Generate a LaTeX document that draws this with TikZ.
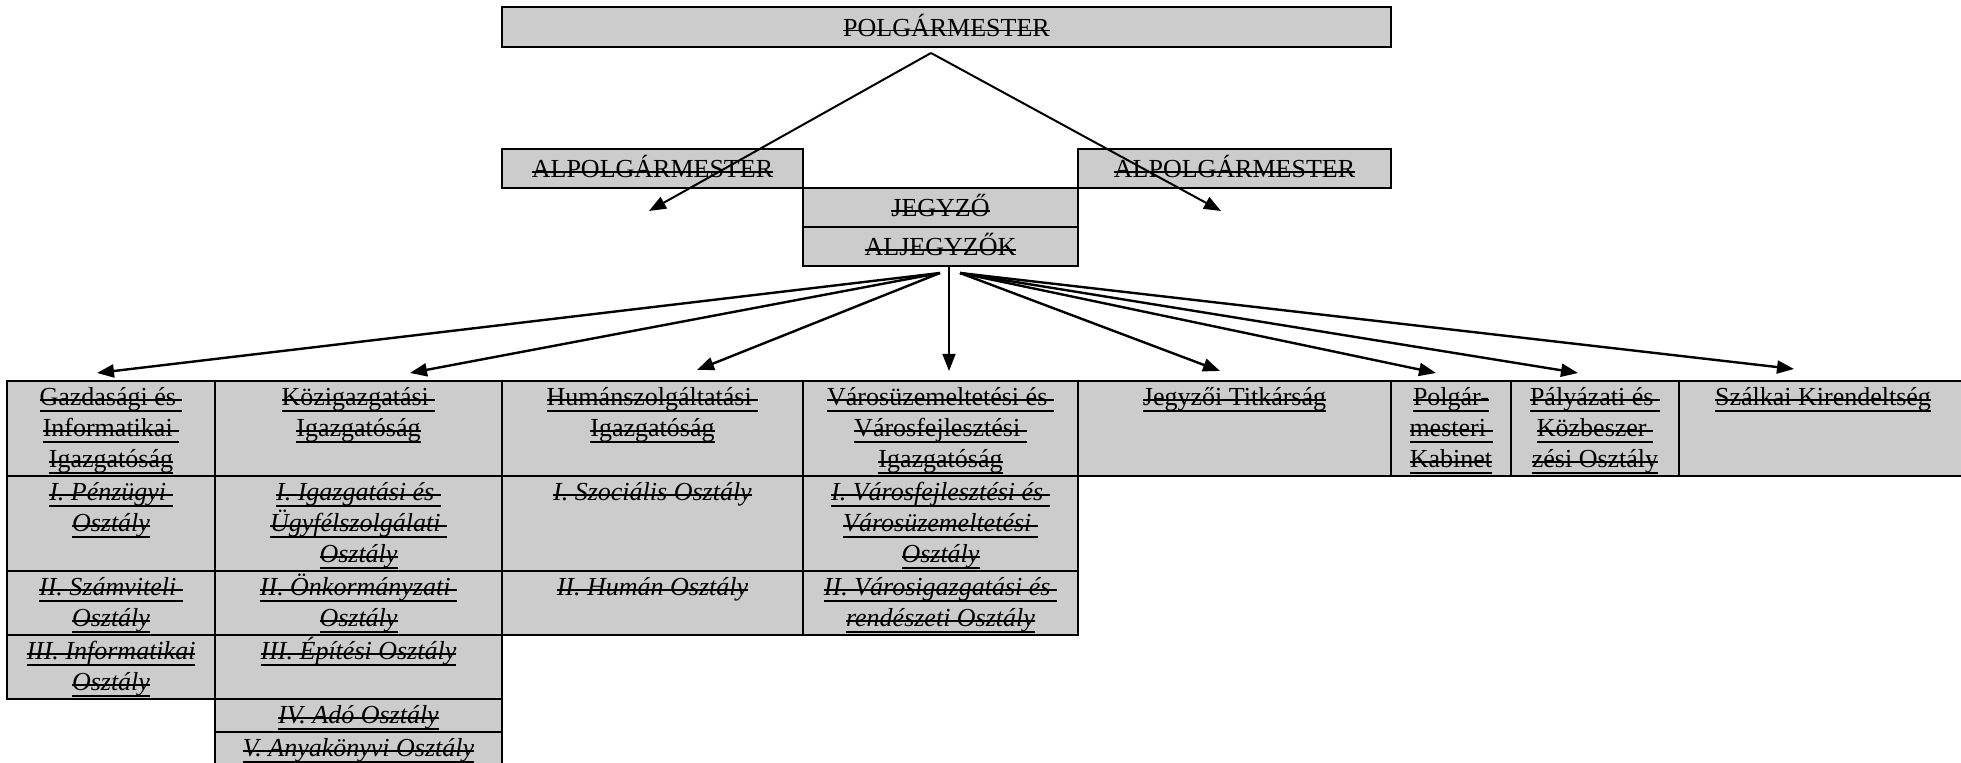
\documentclass[tikz,border=0pt]{standalone}
\usepackage{fontspec}
\setmainfont{Liberation Serif}
\usetikzlibrary{positioning, arrows.meta}

\definecolor{boxgray}{HTML}{CCCCCC}
\newdimen\unitpx \unitpx=0.5pt
% struck text, and struck + underlined text
\newcommand\strk[1]{\leavevmode\setbox0\hbox{#1}\rlap{\rule[0.4ex]{\wd0}{0.7pt}}\box0}
\newcommand\strkul[1]{\leavevmode\setbox0\hbox{#1}\rlap{\rule[0.4ex]{\wd0}{0.7pt}}\rlap{\rule[-0.5ex]{\wd0}{0.7pt}}\box0}
% box of given width and height (pixels), text on top or centred
\newcommand\cellbox[4][t]{\parbox[c][#3\unitpx][#1]{#2\unitpx}{\centering\rule[-3.2pt]{0pt}{15.5pt}#4}}

\begin{document}
\begin{tikzpicture}[x=0.5pt, y=-0.5pt,
    cell/.style={draw, line width=1.2pt, fill=boxgray, inner sep=0pt, outer sep=0pt,
                 font=\fontsize{13}{15.5}\selectfont},
    arr/.style={-{Triangle[length=8.5pt,width=6.5pt]}, line width=1.2pt}]
    \clip (0,0) rectangle (1961,763);

    % Place the leaders on top
    \node (POLG) [cell, anchor=north west] at (502,7) {\cellbox[c]{889}{40}{\strk{POLGÁRMESTER}}};
    \node (ALPL) [cell, anchor=north west] at (502,149) {\cellbox[c]{301}{39}{\strk{ALPOLGÁRMESTER}}};
    \node (JEGY) [cell, anchor=north west] at (803,188) {\cellbox[c]{275}{39}{\strk{JEGYZŐ}}};
    \node (ALJ) [cell, below=0pt of JEGY] {\cellbox[c]{275}{39}{\strk{ALJEGYZŐK}}};
    \node (ALPR) [cell, anchor=north west] at (1078,149) {\cellbox[c]{313}{39}{\strk{ALPOLGÁRMESTER}}};

    % Place the directorates in one row
    \node (GAZ) [cell, anchor=north west] at (7,381) {\cellbox{208}{95}{\strkul{Gazdasági és\ }\\\strkul{Informatikai\ }\\\strkul{Igazgatóság}}};
    \node (KOZ) [cell, right=0pt of GAZ] {\cellbox{287}{95}{\strkul{Közigazgatási\ }\\\strkul{Igazgatóság}}};
    \node (HUM) [cell, right=0pt of KOZ] {\cellbox{301}{95}{\strkul{Humánszolgáltatási\ }\\\strkul{Igazgatóság}}};
    \node (VAR) [cell, right=0pt of HUM] {\cellbox{275}{95}{\strkul{Városüzemeltetési és\ }\\\strkul{Városfejlesztési\ }\\\strkul{Igazgatóság}}};
    \node (JT) [cell, right=0pt of VAR] {\cellbox{313}{95}{\strkul{Jegyzői Titkárság}}};
    \node (KAB) [cell, right=0pt of JT] {\cellbox{120}{95}{\strkul{Polgár-}\\\strkul{mesteri\ }\\\strkul{Kabinet}}};
    \node (PAL) [cell, right=0pt of KAB] {\cellbox{168}{95}{\strkul{Pályázati és\ }\\\strkul{Közbeszer\ }\\\strkul{zési Osztály}}};
    \node (SZK) [cell, right=0pt of PAL] {\cellbox{288}{95}{\strkul{Szálkai Kirendeltség}}};

    % Place the departments below
    \node (GAZ1) [cell, below=0pt of GAZ] {\cellbox{208}{95}{\itshape\strkul{I. Pénzügyi\ }\\\strkul{Osztály}}};
    \node (GAZ2) [cell, below=0pt of GAZ1] {\cellbox{208}{64}{\itshape\strkul{II. Számviteli\ }\\\strkul{Osztály}}};
    \node (GAZ3) [cell, below=0pt of GAZ2] {\cellbox{208}{64}{\itshape\strkul{III. Informatikai}\\\strkul{Osztály}}};

    \node (KOZ1) [cell, below=0pt of KOZ] {\cellbox{287}{95}{\itshape\strkul{I. Igazgatási és\ }\\\strkul{Ügyfélszolgálati\ }\\\strkul{Osztály}}};
    \node (KOZ2) [cell, below=0pt of KOZ1] {\cellbox{287}{64}{\itshape\strkul{II. Önkormányzati\ }\\\strkul{Osztály}}};
    \node (KOZ3) [cell, below=0pt of KOZ2] {\cellbox{287}{64}{\itshape\strkul{III. Építési Osztály}}};
    \node (KOZ4) [cell, below=0pt of KOZ3] {\cellbox{287}{33}{\itshape\strkul{IV. Adó Osztály}}};
    \node (KOZ5) [cell, below=0pt of KOZ4] {\cellbox{287}{60}{\itshape\strkul{V. Anyakönyvi Osztály}}};

    \node (HUM1) [cell, below=0pt of HUM] {\cellbox{301}{95}{\itshape\strk{I. Szociális Osztály}}};
    \node (HUM2) [cell, below=0pt of HUM1] {\cellbox{301}{64}{\itshape\strk{II. Humán Osztály}}};

    \node (VAR1) [cell, below=0pt of VAR] {\cellbox{275}{95}{\itshape\strkul{I. Városfejlesztési és\ }\\\strkul{Városüzemeltetési\ }\\\strkul{Osztály}}};
    \node (VAR2) [cell, below=0pt of VAR1] {\cellbox{275}{64}{\itshape\strkul{II. Városigazgatási és\ }\\\strkul{rendészeti Osztály}}};

    % Arrow ends
    \coordinate (PS) at (931,53);
    \coordinate (TL) at (649,211);
    \coordinate (TR) at (1221,211);
    \coordinate (JL) at (940,273);
    \coordinate (JR) at (960,273);
    \coordinate (JV) at (949,266);
    \coordinate (T1) at (97,373);
    \coordinate (T2) at (410,373);
    \coordinate (T3) at (697,370);
    \coordinate (T4) at (949,371);
    \coordinate (T5) at (1220,371);
    \coordinate (T6) at (1436,373);
    \coordinate (T7) at (1578,373);
    \coordinate (T8) at (1794,369);

    % Draw the arrows
    \draw[arr, line width=1pt] (PS) -- (TL);
    \draw[arr, line width=1pt] (PS) -- (TR);
    \draw[arr] (JL) -- (T1);
    \draw[arr] (JL) -- (T2);
    \draw[arr] (JL) -- (T3);
    \draw[arr, line width=0.8pt] (JV) -- (T4);
    \draw[arr] (JR) -- (T5);
    \draw[arr] (JR) -- (T6);
    \draw[arr] (JR) -- (T7);
    \draw[arr] (JR) -- (T8);
\end{tikzpicture}
\end{document}
